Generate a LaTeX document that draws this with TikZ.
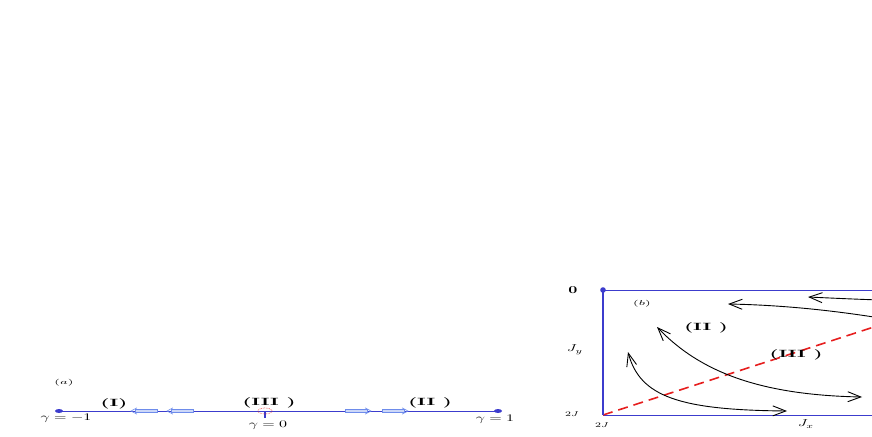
\documentclass[tikz,border=0pt]{standalone}
\usepackage{graphicx}
\usetikzlibrary{arrows.meta}
\newcommand\wx[2]{\scalebox{#1}[1]{#2}}
\definecolor{lineblue}{RGB}{60,60,205}
\definecolor{arrblue}{RGB}{110,140,235}
\definecolor{dashred}{RGB}{230,30,30}
\tikzset{
  lab/.style={inner sep=0pt, font=\bfseries\fontsize{10.5}{10.5}\selectfont},
  smlab/.style={inner sep=0pt, font=\fontsize{7.5}{7.5}\selectfont},
  mlab/.style={inner sep=0pt, font=\fontsize{10}{10}\selectfont},
  flow/.style={black, line width=0.9pt},
  barb/.tip={Straight Barb[length=13pt,width=10pt,line width=0.9pt]},
  harrow/.pic={
    \draw[arrblue, fill=arrblue!35, line width=0.5pt] (4,-1.4) rectangle (26,1.4);
    \draw[arrblue, line width=0.6pt] (6,-3.2) -- (0,0) -- (6,3.2);
  },
}
\begin{document}
\begin{tikzpicture}[x=1pt,y=-1pt]
\useasboundingbox (0,0) rectangle (872,436);
\clip (0,0) rectangle (872,436);
% ---------- panel (a) ----------
\coordinate (aL) at (59,411);
\coordinate (aR) at (498,411);
\coordinate (a0) at (265,411);
\draw[lineblue, line width=0.9pt] (aL) -- (aR);
\fill[lineblue] (aL) ellipse (4pt and 2pt);
\fill[lineblue] (aR) ellipse (4pt and 2pt);
\draw[lineblue, line width=2.2pt] (a0) -- ++(0,7);
\draw[dashred, densely dotted, line width=0.6pt] (a0) ellipse (7pt and 3pt);
\node[smlab] (la) at (64,383) {\wx{1.8}{$(a)$}};
\node[lab] (lI) at (114,404) {\wx{1.9}{(I)}};
\node[lab] (lIII) at (269,403) {\wx{1.9}{(III )}};
\node[lab] (lII) at (430,403) {\wx{1.9}{(II )}};
\node[mlab] (gm1) at (66,418) {\wx{1.6}{$\gamma=-1$}};
\node[mlab] (g0) at (268,425) {\wx{1.6}{$\gamma=0$}};
\node[mlab] (gp1) at (495,419) {\wx{1.6}{$\gamma=1$}};
\pic at (131,411) {harrow};
\pic at (167,411) {harrow};
\pic[xscale=-1] at (371,411) {harrow};
\pic[xscale=-1] at (408,411) {harrow};
% ---------- panel (b) ----------
\coordinate (bTL) at (603,290);
\coordinate (bBL) at (603,415);
\coordinate (bTR) at (880,290);
\coordinate (bBR) at (880,415);
\draw[lineblue, line width=0.7pt] (bTL) -- (bTR);
\draw[lineblue, line width=0.7pt] (bBL) -- (bBR);
\draw[dashred, line width=1.6pt, dash pattern=on 10pt off 6pt] (bBL) -- (880,325);
\draw[lineblue, line width=2.4pt] (bBL) -- (bTL);
\fill[lineblue] (bTL) circle (2.8pt);
\node[lab] (l0) at (573,290) {\wx{1.5}{0}};
\node[mlab] (lJy) at (575,350) {\wx{1.5}{$J_y$}};
\node[smlab] (l2Jy) at (572,414) {\wx{1.5}{$2J$}};
\node[smlab] (l2Jx) at (602,425) {\wx{1.5}{$2J$}};
\node[mlab] (lJx) at (806,424) {\wx{1.5}{$J_x$}};
\node[smlab] (lb) at (642,304) {\wx{1.8}{$(b)$}};
\node[lab] (bII) at (706,328) {\wx{1.9}{(II )}};
\node[lab] (bIII) at (796,355) {\wx{1.9}{(III )}};
\coordinate (c1s) at (628,352);
\coordinate (c1e) at (787,411);
\draw[flow, {barb}-{barb}] (c1s) .. controls (640,397) and (680,410) .. (c1e);
\coordinate (c2s) at (657,327);
\coordinate (c2e) at (862,397);
\draw[flow, {barb}-{barb}] (c2s) .. controls (700,372) and (760,395) .. (c2e);
\coordinate (c3s) at (880,318);
\coordinate (c3e) at (728,304);
\draw[flow, -{barb}] (c3s) .. controls (830,310) and (780,305) .. (c3e);
\coordinate (c4s) at (880,300);
\coordinate (c4e) at (808,297);
\draw[flow, -{barb}] (c4s) .. controls (850,299) and (830,298) .. (c4e);
\end{tikzpicture}
\end{document}
